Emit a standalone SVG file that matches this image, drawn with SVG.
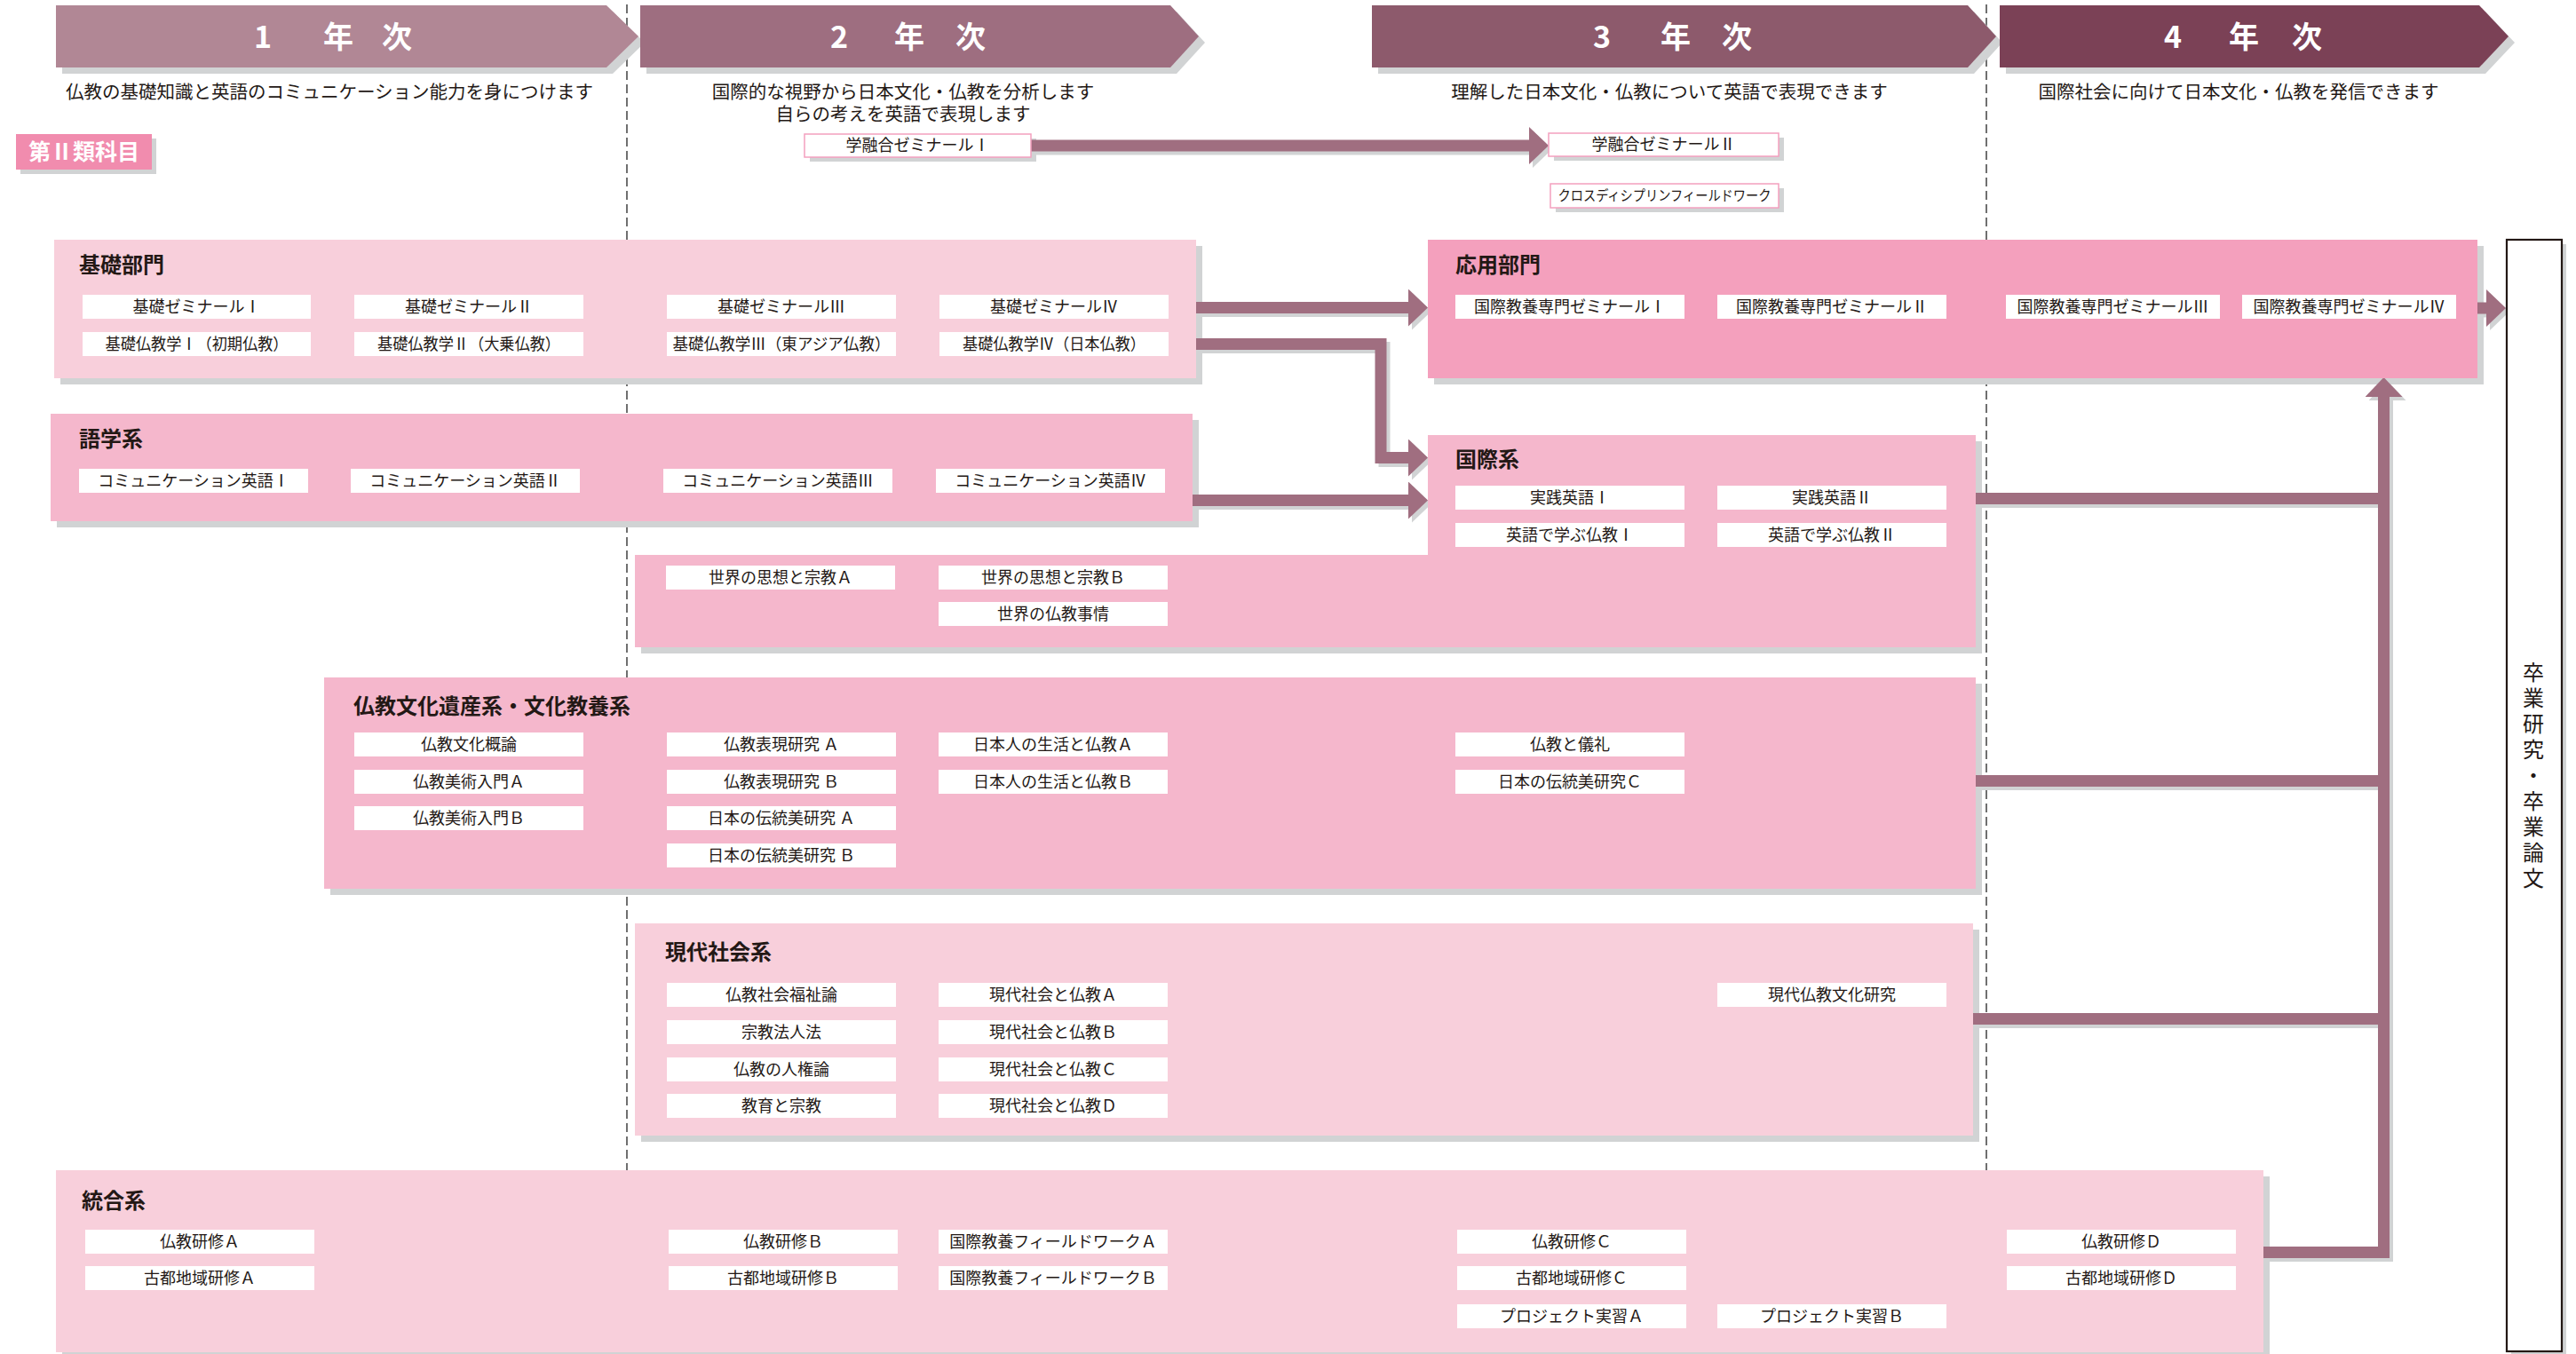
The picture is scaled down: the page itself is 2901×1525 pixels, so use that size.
<svg xmlns="http://www.w3.org/2000/svg" width="2901" height="1525" viewBox="0 0 2901 1525">
<style>
text{font-family:"Noto Sans CJK JP","Noto Sans",sans-serif;fill:#231815}
.sh{fill:#d1d3d4}
.k{fill:#f8cfdb}
.m{fill:#f5b7cc}
.d{fill:#f4a0bd}
.c rect{fill:#ffffff}
.c text{font-size:18px;text-anchor:middle}
.ttl{font-size:24px;font-weight:bold}
.sub{font-size:20.5px;text-anchor:middle}
.yr{font-size:34px;font-weight:bold;fill:#ffffff;text-anchor:middle}
.dash{stroke:#4d4d4d;stroke-width:1.6;stroke-dasharray:10 5;fill:none}
.cn{fill:none;stroke:#a06e80;stroke-width:13;stroke-linejoin:miter}
.cns{fill:none;stroke:#d1d3d4;stroke-width:13;stroke-linejoin:miter}
.pk rect{fill:#ffffff;stroke:#f4a0bf;stroke-width:1.5}
</style>
<defs>
<marker id="ah" viewBox="0 0 22 42" refX="0" refY="21" markerWidth="22" markerHeight="42" markerUnits="userSpaceOnUse" orient="auto"><path d="M0,0 L22,21 L0,42 Z" fill="#a06e80"/></marker>
<marker id="ahs" viewBox="0 0 22 42" refX="0" refY="21" markerWidth="22" markerHeight="42" markerUnits="userSpaceOnUse" orient="auto"><path d="M0,0 L22,21 L0,42 Z" fill="#d1d3d4"/></marker>
</defs>
<rect width="2901" height="1525" fill="#ffffff"/>

<g id="year-dividers">
<line class="dash" x1="706" y1="5" x2="706" y2="1318"/>
<line class="dash" x1="2237" y1="5" x2="2237" y2="1318"/>
</g>

<g id="year1">
<polygon class="sh" points="70,13 690,13 726,48 690,83 70,83"/>
<polygon fill="#b18795" points="63,6 683,6 719,41 683,76 63,76"/>
<text class="yr" y="54"><tspan x="296">1</tspan><tspan x="381">年</tspan><tspan x="447">次</tspan></text>
<text class="sub" x="371" y="111">仏教の基礎知識と英語のコミュニケーション能力を身につけます</text>
</g>
<g id="year2">
<polygon class="sh" points="728,13 1325,13 1357,48 1325,83 728,83"/>
<polygon fill="#9e6e80" points="721,6 1318,6 1350,41 1318,76 721,76"/>
<text class="yr" y="54"><tspan x="945">2</tspan><tspan x="1024">年</tspan><tspan x="1093">次</tspan></text>
<text class="sub" x="1017" y="111">国際的な視野から日本文化・仏教を分析します</text>
<text class="sub" x="1017" y="136">自らの考えを英語で表現します</text>
</g>
<g id="year3">
<polygon class="sh" points="1552,13 2223,13 2255,48 2223,83 1552,83"/>
<polygon fill="#8d5a6c" points="1545,6 2216,6 2248,41 2216,76 1545,76"/>
<text class="yr" y="54"><tspan x="1804">3</tspan><tspan x="1887">年</tspan><tspan x="1956">次</tspan></text>
<text class="sub" x="1880" y="111">理解した日本文化・仏教について英語で表現できます</text>
</g>
<g id="year4">
<polygon class="sh" points="2259,13 2799,13 2832,48 2799,83 2259,83"/>
<polygon fill="#7b4156" points="2252,6 2792,6 2825,41 2792,76 2252,76"/>
<text class="yr" y="54"><tspan x="2447">4</tspan><tspan x="2527">年</tspan><tspan x="2598">次</tspan></text>
<text class="sub" x="2521" y="111">国際社会に向けて日本文化・仏教を発信できます</text>
</g>

<g id="category-label">
<rect class="sh" x="23" y="156" width="153" height="40"/>
<rect fill="#f18cae" x="18" y="151" width="153" height="40"/>
<text x="94.5" y="180" font-size="25" font-weight="bold" text-anchor="middle" style="fill:#ffffff">第Ⅱ類科目</text>
</g>

<g id="shadows">
<rect class="sh" x="68" y="277" width="1286" height="156"/>
<rect class="sh" x="64" y="473" width="1286" height="121"/>
<rect class="sh" x="1615" y="277" width="1182" height="156"/>
<polygon class="sh" points="1615,497 2232,497 2232,736 722,736 722,632 1615,632"/>
<rect class="sh" x="372" y="770" width="1860" height="238"/>
<rect class="sh" x="722" y="1047" width="1507" height="239"/>
<rect class="sh" x="70" y="1325" width="2486" height="205"/>
<rect class="sh" x="2828" y="275" width="62" height="1252"/>
<rect class="sh" x="912" y="156" width="255" height="26"/>
<rect class="sh" x="1750" y="155" width="259" height="26"/>
<rect class="sh" x="1752" y="212" width="257" height="27"/>
</g>

<g id="connectors">
<g transform="translate(4,4)">
<path class="cns" d="M1161,164 H1722" marker-end="url(#ahs)"/>
<path class="cns" d="M1347,346.5 H1586" marker-end="url(#ahs)"/>
<path class="cns" d="M1347,387.5 H1555 V515.5 H1586" marker-end="url(#ahs)"/>
<path class="cns" d="M1343,563.5 H1586" marker-end="url(#ahs)"/>
<path class="cns" d="M2790,347 H2800" marker-end="url(#ahs)"/>
<path class="cns" d="M2225,561.5 H2685"/>
<path class="cns" d="M2225,879.5 H2685"/>
<path class="cns" d="M2222,1147.5 H2685"/>
<path class="cns" d="M2549,1410.5 H2684.5 V447" marker-end="url(#ahs)"/>
</g>
<path class="cn" d="M1161,164 H1722" marker-end="url(#ah)"/>
<path class="cn" d="M1347,346.5 H1586" marker-end="url(#ah)"/>
<path class="cn" d="M1347,387.5 H1555 V515.5 H1586" marker-end="url(#ah)"/>
<path class="cn" d="M1343,563.5 H1586" marker-end="url(#ah)"/>
<path class="cn" d="M2790,347 H2800" marker-end="url(#ah)"/>
<path class="cn" d="M2225,561.5 H2685"/>
<path class="cn" d="M2225,879.5 H2685"/>
<path class="cn" d="M2222,1147.5 H2685"/>
<path class="cn" d="M2549,1410.5 H2684.5 V447" marker-end="url(#ah)"/>
</g>

<g id="gakuyugo-1" class="pk"><rect x="906" y="151" width="255" height="26"/><text x="1033.5" y="170" font-size="18" text-anchor="middle">学融合ゼミナールⅠ</text></g>
<g id="gakuyugo-2" class="pk"><rect x="1744" y="150" width="259" height="26"/><text x="1873.5" y="169" font-size="18" text-anchor="middle">学融合ゼミナールⅡ</text></g>
<g id="cross-fieldwork" class="pk"><rect x="1746" y="207" width="257" height="27"/><text x="1874.5" y="226" font-size="16" text-anchor="middle" textLength="240" lengthAdjust="spacingAndGlyphs">クロスディシプリンフィールドワーク</text></g>

<g id="kiso">
<rect class="k" x="61" y="270" width="1286" height="156"/>
<text class="ttl" x="89" y="307">基礎部門</text>
<g class="c" id="kiso-sem1"><rect x="93" y="332" width="257" height="27"/><text x="221.5" y="352">基礎ゼミナールⅠ</text></g>
<g class="c" id="kiso-sem2"><rect x="399" y="332" width="258" height="27"/><text x="528" y="352">基礎ゼミナールⅡ</text></g>
<g class="c" id="kiso-sem3"><rect x="751" y="332" width="258" height="27"/><text x="880" y="352">基礎ゼミナールⅢ</text></g>
<g class="c" id="kiso-sem4"><rect x="1058" y="332" width="258" height="27"/><text x="1187" y="352">基礎ゼミナールⅣ</text></g>
<g class="c" id="kiso-bud1"><rect x="93" y="374" width="257" height="27"/><text x="221.5" y="394" textLength="206" lengthAdjust="spacingAndGlyphs">基礎仏教学Ⅰ（初期仏教）</text></g>
<g class="c" id="kiso-bud2"><rect x="399" y="374" width="258" height="27"/><text x="528" y="394" textLength="206" lengthAdjust="spacingAndGlyphs">基礎仏教学Ⅱ（大乗仏教）</text></g>
<g class="c" id="kiso-bud3"><rect x="751" y="374" width="258" height="27"/><text x="880" y="394" textLength="245" lengthAdjust="spacingAndGlyphs">基礎仏教学Ⅲ（東アジア仏教）</text></g>
<g class="c" id="kiso-bud4"><rect x="1058" y="374" width="258" height="27"/><text x="1187" y="394" textLength="206" lengthAdjust="spacingAndGlyphs">基礎仏教学Ⅳ（日本仏教）</text></g>
</g>

<g id="gogaku">
<rect class="m" x="57" y="466" width="1286" height="121"/>
<text class="ttl" x="89" y="503">語学系</text>
<g class="c" id="eng1"><rect x="89" y="528" width="258" height="27"/><text x="218" y="548">コミュニケーション英語Ⅰ</text></g>
<g class="c" id="eng2"><rect x="395" y="528" width="258" height="27"/><text x="524" y="548">コミュニケーション英語Ⅱ</text></g>
<g class="c" id="eng3"><rect x="747" y="528" width="258" height="27"/><text x="876" y="548">コミュニケーション英語Ⅲ</text></g>
<g class="c" id="eng4"><rect x="1054" y="528" width="258" height="27"/><text x="1183" y="548">コミュニケーション英語Ⅳ</text></g>
</g>

<g id="oyo">
<rect class="d" x="1608" y="270" width="1182" height="156"/>
<text class="ttl" x="1639" y="307">応用部門</text>
<g class="c" id="oyo-sem1"><rect x="1639" y="332" width="258" height="27"/><text x="1768" y="352">国際教養専門ゼミナールⅠ</text></g>
<g class="c" id="oyo-sem2"><rect x="1934" y="332" width="258" height="27"/><text x="2063" y="352">国際教養専門ゼミナールⅡ</text></g>
<g class="c" id="oyo-sem3"><rect x="2259" y="332" width="241" height="27"/><text x="2379.5" y="352">国際教養専門ゼミナールⅢ</text></g>
<g class="c" id="oyo-sem4"><rect x="2525" y="332" width="241" height="27"/><text x="2645.5" y="352">国際教養専門ゼミナールⅣ</text></g>
</g>

<g id="kokusai">
<polygon class="m" points="1608,490 2225,490 2225,729 715,729 715,625 1608,625"/>
<text class="ttl" x="1639" y="526">国際系</text>
<g class="c" id="jissen1"><rect x="1639" y="547" width="258" height="27"/><text x="1768" y="567">実践英語Ⅰ</text></g>
<g class="c" id="jissen2"><rect x="1934" y="547" width="258" height="27"/><text x="2063" y="567">実践英語Ⅱ</text></g>
<g class="c" id="eibukkyo1"><rect x="1639" y="589" width="258" height="27"/><text x="1768" y="609">英語で学ぶ仏教Ⅰ</text></g>
<g class="c" id="eibukkyo2"><rect x="1934" y="589" width="258" height="27"/><text x="2063" y="609">英語で学ぶ仏教Ⅱ</text></g>
<g class="c" id="sekai-a"><rect x="750" y="637" width="258" height="27"/><text x="879" y="657">世界の思想と宗教Ａ</text></g>
<g class="c" id="sekai-b"><rect x="1057" y="637" width="258" height="27"/><text x="1186" y="657">世界の思想と宗教Ｂ</text></g>
<g class="c" id="sekai-jijo"><rect x="1057" y="678" width="258" height="27"/><text x="1186" y="698">世界の仏教事情</text></g>
</g>

<g id="bunka">
<rect class="m" x="365" y="763" width="1860" height="238"/>
<text class="ttl" x="398" y="804">仏教文化遺産系・文化教養系</text>
<g class="c" id="b1"><rect x="399" y="825" width="258" height="27"/><text x="528" y="845">仏教文化概論</text></g>
<g class="c" id="b2"><rect x="399" y="867" width="258" height="27"/><text x="528" y="887">仏教美術入門Ａ</text></g>
<g class="c" id="b3"><rect x="399" y="908" width="258" height="27"/><text x="528" y="928">仏教美術入門Ｂ</text></g>
<g class="c" id="b4"><rect x="751" y="825" width="258" height="27"/><text x="880" y="845">仏教表現研究 Ａ</text></g>
<g class="c" id="b5"><rect x="751" y="867" width="258" height="27"/><text x="880" y="887">仏教表現研究 Ｂ</text></g>
<g class="c" id="b6"><rect x="751" y="908" width="258" height="27"/><text x="880" y="928">日本の伝統美研究 Ａ</text></g>
<g class="c" id="b7"><rect x="751" y="950" width="258" height="27"/><text x="880" y="970">日本の伝統美研究 Ｂ</text></g>
<g class="c" id="b8"><rect x="1057" y="825" width="258" height="27"/><text x="1186" y="845">日本人の生活と仏教Ａ</text></g>
<g class="c" id="b9"><rect x="1057" y="867" width="258" height="27"/><text x="1186" y="887">日本人の生活と仏教Ｂ</text></g>
<g class="c" id="b10"><rect x="1639" y="825" width="258" height="27"/><text x="1768" y="845">仏教と儀礼</text></g>
<g class="c" id="b11"><rect x="1639" y="867" width="258" height="27"/><text x="1768" y="887">日本の伝統美研究Ｃ</text></g>
</g>

<g id="gendai">
<rect class="k" x="715" y="1040" width="1507" height="239"/>
<text class="ttl" x="749" y="1081">現代社会系</text>
<g class="c" id="m1"><rect x="751" y="1107" width="258" height="27"/><text x="880" y="1127">仏教社会福祉論</text></g>
<g class="c" id="m2"><rect x="751" y="1149" width="258" height="27"/><text x="880" y="1169">宗教法人法</text></g>
<g class="c" id="m3"><rect x="751" y="1191" width="258" height="27"/><text x="880" y="1211">仏教の人権論</text></g>
<g class="c" id="m4"><rect x="751" y="1232" width="258" height="27"/><text x="880" y="1252">教育と宗教</text></g>
<g class="c" id="m5"><rect x="1057" y="1107" width="258" height="27"/><text x="1186" y="1127">現代社会と仏教Ａ</text></g>
<g class="c" id="m6"><rect x="1057" y="1149" width="258" height="27"/><text x="1186" y="1169">現代社会と仏教Ｂ</text></g>
<g class="c" id="m7"><rect x="1057" y="1191" width="258" height="27"/><text x="1186" y="1211">現代社会と仏教Ｃ</text></g>
<g class="c" id="m8"><rect x="1057" y="1232" width="258" height="27"/><text x="1186" y="1252">現代社会と仏教Ｄ</text></g>
<g class="c" id="m9"><rect x="1934" y="1107" width="258" height="27"/><text x="2063" y="1127">現代仏教文化研究</text></g>
</g>

<g id="togo">
<rect class="k" x="63" y="1318" width="2486" height="205"/>
<text class="ttl" x="92" y="1361">統合系</text>
<g class="c" id="t1"><rect x="96" y="1385" width="258" height="27"/><text x="225" y="1405">仏教研修Ａ</text></g>
<g class="c" id="t2"><rect x="96" y="1426" width="258" height="27"/><text x="225" y="1446">古都地域研修Ａ</text></g>
<g class="c" id="t3"><rect x="753" y="1385" width="258" height="27"/><text x="882" y="1405">仏教研修Ｂ</text></g>
<g class="c" id="t4"><rect x="753" y="1426" width="258" height="27"/><text x="882" y="1446">古都地域研修Ｂ</text></g>
<g class="c" id="t5"><rect x="1057" y="1385" width="258" height="27"/><text x="1186" y="1405">国際教養フィールドワークＡ</text></g>
<g class="c" id="t6"><rect x="1057" y="1426" width="258" height="27"/><text x="1186" y="1446">国際教養フィールドワークＢ</text></g>
<g class="c" id="t7"><rect x="1641" y="1385" width="258" height="27"/><text x="1770" y="1405">仏教研修Ｃ</text></g>
<g class="c" id="t8"><rect x="1641" y="1426" width="258" height="27"/><text x="1770" y="1446">古都地域研修Ｃ</text></g>
<g class="c" id="t9"><rect x="1641" y="1469" width="258" height="27"/><text x="1770" y="1489">プロジェクト実習Ａ</text></g>
<g class="c" id="t10"><rect x="1934" y="1469" width="258" height="27"/><text x="2063" y="1489">プロジェクト実習Ｂ</text></g>
<g class="c" id="t11"><rect x="2260" y="1385" width="258" height="27"/><text x="2389" y="1405">仏教研修Ｄ</text></g>
<g class="c" id="t12"><rect x="2260" y="1426" width="258" height="27"/><text x="2389" y="1446">古都地域研修Ｄ</text></g>
</g>

<g id="sotsugyo">
<rect x="2823" y="270" width="62" height="1252" fill="#ffffff" stroke="#231815" stroke-width="2.2"/>
<text x="2853" y="875" font-size="24" text-anchor="middle" letter-spacing="5" style="writing-mode:vertical-rl">卒業研究・卒業論文</text>
</g>
</svg>
